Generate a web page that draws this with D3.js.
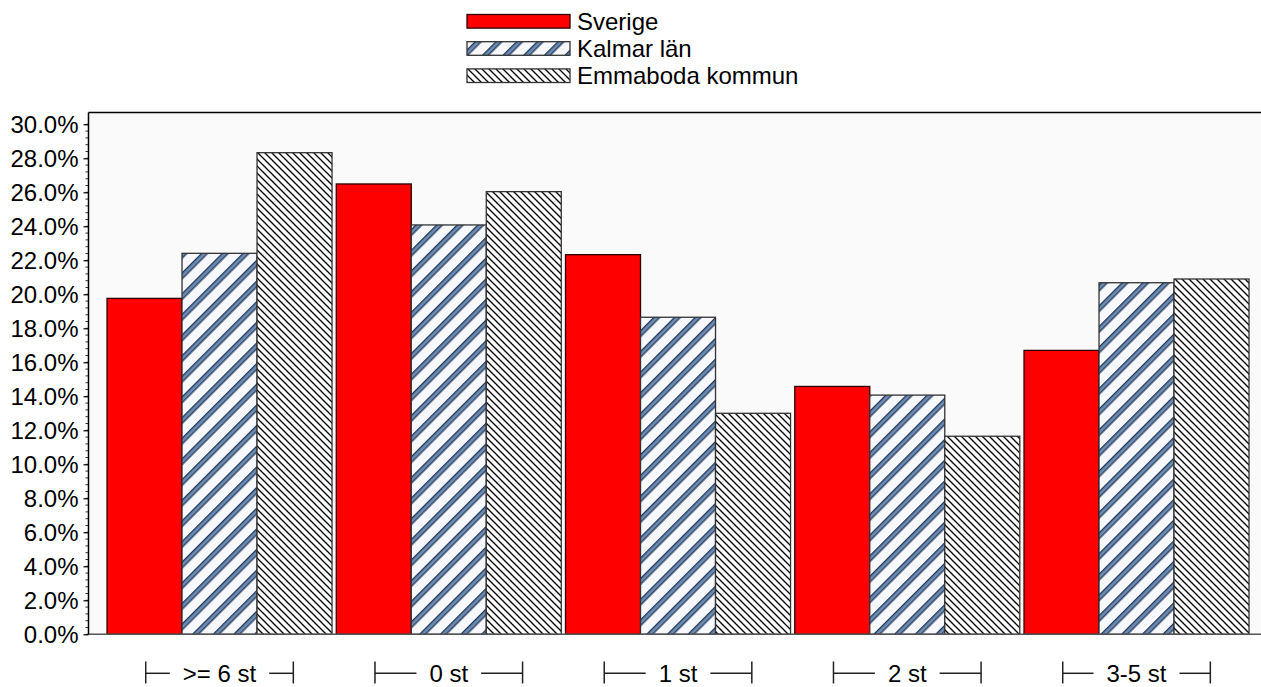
<!DOCTYPE html>
<html><head><meta charset="utf-8">
<script src="https://cdn.jsdelivr.net/npm/d3@7/dist/d3.min.js"></script>
<style>
html,body{margin:0;padding:0;background:#fff;}
svg{display:block;font-family:"Liberation Sans",Arial,sans-serif;}
</style></head>
<body>
<svg id="chart" width="1261" height="687"></svg>
<script>
const categories = [">= 6 st", "0 st", "1 st", "2 st", "3-5 st"];
const seriesNames = ["Sverige", "Kalmar län", "Emmaboda kommun"];
const sverige  = [19.76, 26.49, 22.33, 14.58, 16.70];
const kalmar   = [22.41, 24.08, 18.65, 14.07, 20.68];
const emmaboda = [28.33, 26.04, 13.00, 11.65, 20.90];
const yTicks = [0, 2, 4, 6, 8, 10, 12, 14, 16, 18, 20, 22, 24, 26, 28, 30];

const series = [sverige, kalmar, emmaboda];
const svg = d3.select("#chart");
const W = 1261;
const plotL = 88.5, plotT = 112.5, plotB = 634.3;
const FS = "24px";

const defs = svg.append("defs");
// Kalmar pattern: "/" blue stripes
const pk = defs.append("pattern").attr("id","pKalmar").attr("patternUnits","userSpaceOnUse")
  .attr("width",14.6).attr("height",14.6).attr("patternTransform","rotate(45)");
pk.append("rect").attr("width",14.6).attr("height",14.6).attr("fill","#f6f8fb");
pk.append("rect").attr("x",0).attr("width",5.4).attr("height",14.6).attr("fill","#22375a");
pk.append("rect").attr("x",1.3).attr("width",2.8).attr("height",14.6).attr("fill","#6e8db3");
// Emmaboda pattern: "\" thin black lines
const pe = defs.append("pattern").attr("id","pEmma").attr("patternUnits","userSpaceOnUse")
  .attr("width",7).attr("height",7);
pe.append("rect").attr("width",7).attr("height",7).attr("fill","#fbfbfb");
pe.append("path").attr("d","M-1,-1 L8,8 M-1,6 L1,8 M6,-1 L8,1")
  .attr("stroke","#000").attr("stroke-width",1.3).attr("fill","none");

const fills = ["#ff0000", "url(#pKalmar)", "url(#pEmma)"];
const strokes = ["#2a0000", "#333", "#333"];

// plot background
svg.append("rect").attr("x",plotL).attr("y",plotT).attr("width",W-plotL).attr("height",plotB-plotT)
  .attr("fill","#fafafa");

const y = d3.scaleLinear().domain([0,30]).range([plotB, 124.3]);
const x0 = d3.scaleBand().domain(categories).range([104.9, 104.9+5*229.25])
  .paddingInner(4.25/229.25).paddingOuter(4.25/229.25/2);
const x1 = d3.scaleBand().domain(seriesNames).range([0, x0.bandwidth()]);

// bars
const g = svg.append("g");
categories.forEach((c, i) => {
  seriesNames.forEach((s, j) => {
    const v = series[j][i];
    g.append("rect")
      .attr("x", x0(c) + x1(s))
      .attr("y", y(v))
      .attr("width", x1.bandwidth())
      .attr("height", plotB - y(v))
      .attr("fill", fills[j])
      .attr("stroke", strokes[j]).attr("stroke-width", 1.3);
  });
});

// top border
svg.append("line").attr("x1",plotL).attr("x2",W).attr("y1",plotT).attr("y2",plotT)
  .attr("stroke","#000").attr("stroke-width",1.5);
// bottom axis line
svg.append("line").attr("x1",plotL).attr("x2",W).attr("y1",plotB).attr("y2",plotB)
  .attr("stroke","#555").attr("stroke-width",1.6);

// y axis
const minor = d3.range(0, 30.0001, 0.4).map(v => +v.toFixed(1));
const yAxisG = svg.append("g").attr("transform",`translate(${plotL},0)`);
yAxisG.selectAll("line.minor").data(minor).enter().append("line")
  .attr("x1",-3).attr("x2",0).attr("y1",d=>y(d)).attr("y2",d=>y(d))
  .attr("stroke","#333").attr("stroke-width",1);
const yAxis = d3.axisLeft(y).tickValues(yTicks).tickSize(5).tickPadding(5)
  .tickFormat(d => d.toFixed(1) + "%");
const ya = yAxisG.append("g").call(yAxis);
ya.select(".domain").remove();
ya.append("line").attr("x1",0).attr("x2",0).attr("y1",plotT).attr("y2",plotB)
  .attr("stroke","#000").attr("stroke-width",1.5);
ya.selectAll(".tick line").attr("stroke","#000").attr("stroke-width",1.2);
ya.selectAll(".tick text").attr("font-size",FS).attr("fill","#000")
  .attr("font-family","'Liberation Sans',Arial,sans-serif").attr("dy","0.36em");

// x labels with brackets
const xl = svg.append("g");
categories.forEach(c => {
  const cx = x0(c) + x0.bandwidth()/2;
  const half = 73.8, yc = 673.3;
  const t = xl.append("text").attr("x",cx).attr("y",682).attr("text-anchor","middle")
    .attr("font-size",FS).attr("fill","#000").text(c);
  const tw = t.node().getComputedTextLength();
  const gap = 13;
  const st = {stroke:"#222", w:1.5};
  xl.append("line").attr("x1",cx-half).attr("x2",cx-half).attr("y1",661.5).attr("y2",683.5).attr("stroke",st.stroke).attr("stroke-width",st.w);
  xl.append("line").attr("x1",cx+half).attr("x2",cx+half).attr("y1",661.5).attr("y2",683.5).attr("stroke",st.stroke).attr("stroke-width",st.w);
  xl.append("line").attr("x1",cx-half).attr("x2",cx-tw/2-gap).attr("y1",yc).attr("y2",yc).attr("stroke",st.stroke).attr("stroke-width",st.w);
  xl.append("line").attr("x1",cx+tw/2+gap).attr("x2",cx+half).attr("y1",yc).attr("y2",yc).attr("stroke",st.stroke).attr("stroke-width",st.w);
});

// legend
const lg = svg.append("g");
seriesNames.forEach((s, j) => {
  const cy = 21.3 + j*27.2;
  lg.append("rect").attr("x",467).attr("y",cy-6.8).attr("width",103).attr("height",13.6)
    .attr("fill",fills[j]).attr("stroke",strokes[j]).attr("stroke-width",1.3);
  lg.append("text").attr("x",577).attr("y",cy+8.5).attr("font-size",FS).attr("fill","#000").text(s);
});
</script>
</body></html>
